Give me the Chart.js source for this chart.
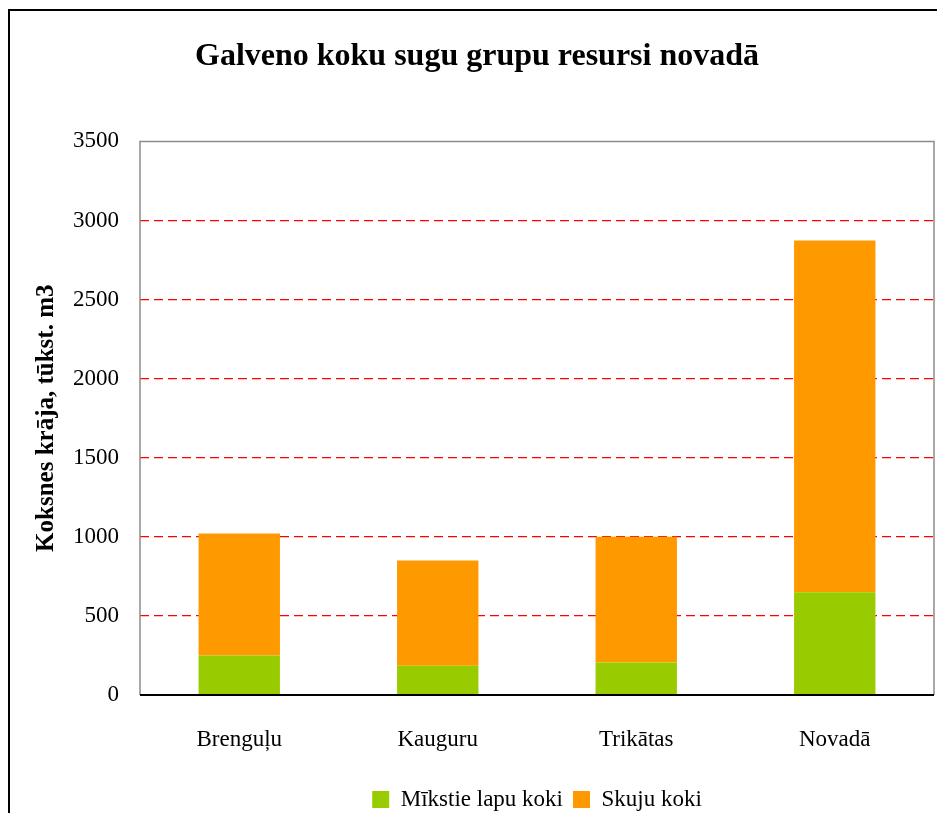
<!DOCTYPE html>
<html>
<head>
<meta charset="utf-8">
<script src="https://cdn.jsdelivr.net/npm/chart.js@4"></script>
<style>
  html, body { margin: 0; padding: 0; background: #fff; }
  #wrap { width: 937px; height: 813px; }
</style>
</head>
<body>
<div id="wrap"><canvas id="grafik" width="937" height="813"></canvas></div>
<script>
// Dati no attēla
const kategorijas = ['Brenguļu', 'Kauguru', 'Trikātas', 'Novadā'];
const mikstieLapuKoki = [249, 185, 206, 650];
const skujuKoki = [772, 665, 794, 2224];
const asisMax = 3500;
const asisSolis = 500;

const fonts = "'Liberation Serif', 'Times New Roman', serif";

// Ārējais rāmis un zīmējuma laukuma rāmis
const ramji = {
    id: 'ramji',
    afterLayout(chart) {
        // leģenda oriģinālā nobīdīta pa labi
        chart.legend.left += 60;
        chart.legend.right += 60;
    },
    beforeDraw(chart) {
        const c = chart.ctx;
        c.save();
        c.fillStyle = '#fff';
        c.fillRect(0, 0, chart.width, chart.height);
        c.strokeStyle = '#000';
        c.lineWidth = 2;
        c.strokeRect(9, 10, chart.width + 20, chart.height + 20);
        c.restore();
    },
    afterDraw(chart) {
        const a = chart.chartArea;
        const c = chart.ctx;
        c.save();
        c.strokeStyle = '#8c8c8c';
        c.lineWidth = 1.5;
        c.beginPath();
        c.moveTo(a.left, a.bottom);
        c.lineTo(a.left, a.top);
        c.lineTo(a.right, a.top);
        c.lineTo(a.right, a.bottom);
        c.stroke();
        c.strokeStyle = '#000';
        c.lineWidth = 2;
        c.beginPath();
        c.moveTo(a.left, a.bottom);
        c.lineTo(a.right, a.bottom);
        c.stroke();
        c.restore();
    }
};

new Chart(document.getElementById('grafik'), {
    type: 'bar',
    data: {
        labels: kategorijas,
        datasets: [
            {
                label: 'Mīkstie lapu koki',
                data: mikstieLapuKoki,
                backgroundColor: '#99CC00',
                borderWidth: 0
            },
            {
                label: 'Skuju koki',
                data: skujuKoki,
                backgroundColor: '#FF9900',
                borderWidth: 0
            }
        ]
    },
    options: {
        responsive: false,
        animation: false,
        layout: { padding: { left: 20, right: 3, top: 0, bottom: -8 } },
        datasets: { bar: { categoryPercentage: 1, barPercentage: 0.41 } },
        plugins: {
            title: {
                display: true,
                text: 'Galveno koku sugu grupu resursi novadā',
                color: '#000',
                font: { family: fonts, size: 32, weight: 'bold' },
                padding: { top: 38, bottom: 65 }
            },
            legend: {
                position: 'bottom',
                labels: {
                    color: '#000',
                    font: { family: fonts, size: 23 },
                    boxWidth: 17,
                    boxHeight: 17,
                    padding: 10
                }
            },
            tooltip: { enabled: false }
        },
        scales: {
            x: {
                stacked: true,
                grid: { display: false, drawTicks: false },
                border: { display: false },
                ticks: { color: '#000', font: { family: fonts, size: 23 }, padding: 31 },
                afterFit(scale) { scale.height = 83; }
            },
            y: {
                stacked: true,
                min: 0,
                max: asisMax,
                ticks: {
                    stepSize: asisSolis,
                    color: '#000',
                    font: { family: fonts, size: 23 },
                    padding: 21,
                    callback: (v) => String(v)
                },
                grid: {
                    drawTicks: false,
                    lineWidth: 1.2,
                    color: (ctx) => (ctx.tick && ctx.tick.value > 0 && ctx.tick.value < asisMax) ? '#FF0000' : 'rgba(0,0,0,0)'
                },
                border: { display: false, dash: [9, 5] },
                title: {
                    display: true,
                    text: 'Koksnes krāja, tūkst. m3',
                    color: '#000',
                    font: { family: fonts, size: 25, weight: 'bold' },
                    padding: { top: 12, bottom: 0 }
                },
                afterFit(scale) { scale.width = 120; }
            }
        }
    },
    plugins: [ramji]
});
</script>
</body>
</html>
